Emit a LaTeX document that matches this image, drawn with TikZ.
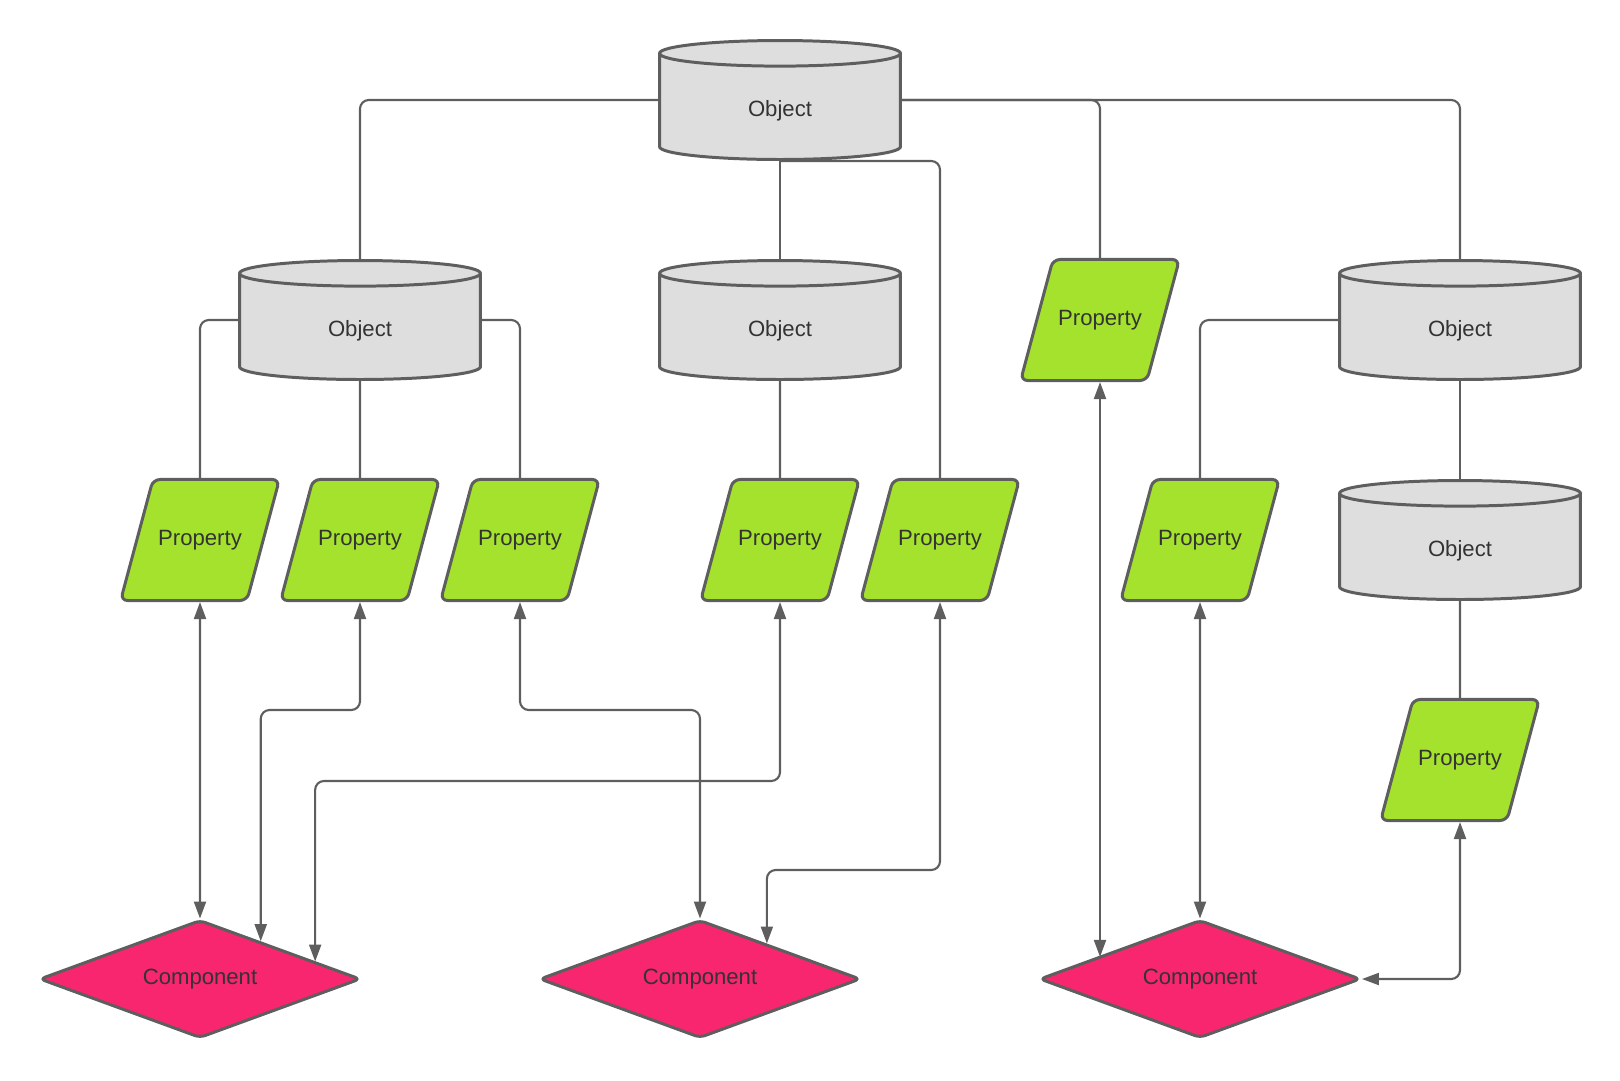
\documentclass[tikz,border=0pt]{standalone}
\usepackage{fontspec}
\setmainfont{Liberation Sans}
\usetikzlibrary{arrows.meta,calc,shapes.geometric}
\definecolor{linegray}{HTML}{5E5E5E}
\definecolor{objgray}{HTML}{DEDEDE}
\definecolor{propgreen}{HTML}{A5E22E}
\definecolor{comppink}{HTML}{F8266F}
\definecolor{txtgray}{HTML}{333333}
\tikzset{
  obj/.style={cylinder,shape border rotate=90,aspect=0.4,anchor=shape center,draw=linegray,fill=objgray,line width=1.7pt,minimum width=4.82cm,minimum height=2.38cm,inner sep=0pt,text height=13.3pt,text depth=2.7pt,text=txtgray,font=\fontsize{12.6}{15}\selectfont},
  prop/.style={trapezium,trapezium left angle=75,trapezium right angle=105,draw=linegray,fill=propgreen,line width=1.7pt,rounded corners=4pt,text width=1.88cm,align=center,text height=9pt,text depth=2.7pt,inner xsep=0pt,inner ysep=28.6pt,text=txtgray,font=\fontsize{12.6}{15}\selectfont},
  comp/.style={diamond,aspect=2.67,draw=linegray,fill=comppink,line width=1.7pt,rounded corners=3pt,minimum width=6.42cm,minimum height=2.36cm,inner sep=0pt,text=txtgray,font=\fontsize{12.6}{15}\selectfont},
  conn/.style={draw=linegray,line width=1.2pt,rounded corners=5pt},
  biarr/.style={conn,{Triangle[length=3.4mm,width=2.4mm]}-{Triangle[length=3.4mm,width=2.4mm]}},
}
\begin{document}
\begin{tikzpicture}[x=0.02cm,y=-0.02cm]
  \useasboundingbox (0,0) rectangle (1620,1080);
  % objects
  \node[obj] (o0) at (780,100) {Object};
  \node[obj] (o1) at (360,320) {Object};
  \node[obj] (o2) at (780,320) {Object};
  \node[obj] (o3) at (1460,320) {Object};
  \node[obj] (o4) at (1460,540) {Object};
  % properties
  \node[prop] (pt) at (1100,320) {Property};
  \node[prop] (p1) at (200,540) {Property};
  \node[prop] (p2) at (360,540) {Property};
  \node[prop] (p3) at (520,540) {Property};
  \node[prop] (p4) at (780,540) {Property};
  \node[prop] (p5) at (940,540) {Property};
  \node[prop] (p6) at (1200,540) {Property};
  \node[prop] (p7) at (1460,760) {Property};
  % components
  \node[comp] (c1) at (200,979) {Component};
  \node[comp] (c2) at (700,979) {Component};
  \node[comp] (c3) at (1200,979) {Component};
  \coordinate (c1a) at ($(c1.north)!0.375!(c1.east)$);
  \coordinate (c1b) at ($(c1.north)!0.711!(c1.east)$);
  \coordinate (c2a) at ($(c2.north)!0.413!(c2.east)$);
  \coordinate (c3a) at ($(c3.north)!0.635!(c3.west)$);
  % tree lines
  \draw[conn] (o0.west |- o0.shape center) -| (o1.north);
  \draw[conn] (o0.east |- o0.shape center) -| (pt.north);
  \draw[conn] (o0.east |- o0.shape center) -| (o3.north);
  \draw[conn] (o0.south) -- (o2.north);
  \draw[conn] (o0.south) -| (p5.north);
  \draw[conn] (o1.west |- o1.shape center) -| (p1.north);
  \draw[conn] (o1.south) -- (p2.north);
  \draw[conn] (o1.east |- o1.shape center) -| (p3.north);
  \draw[conn] (o2.south) -- (p4.north);
  \draw[conn] (o3.west |- o3.shape center) -| (p6.north);
  \draw[conn] (o3.south) -- (o4.north);
  \draw[conn] (o4.south) -- (p7.north);
  % links to components
  \draw[biarr] (p1.south) -- (c1.north);
  \draw[biarr] (p2.south) -- (p2.south |- 0,710) -| (c1a);
  \draw[biarr] (p3.south) -- (p3.south |- 0,710) -| (c2.north);
  \draw[biarr] (p4.south) -- (p4.south |- 0,781) -| (c1b);
  \draw[biarr] (p5.south) -- (p5.south |- 0,870) -| (c2a);
  \draw[biarr] (pt.south) -- (pt.south |- c3a);
  \draw[biarr] (p6.south) -- (c3.north);
  \draw[biarr] (p7.south) |- (c3.east);
\end{tikzpicture}
\end{document}
